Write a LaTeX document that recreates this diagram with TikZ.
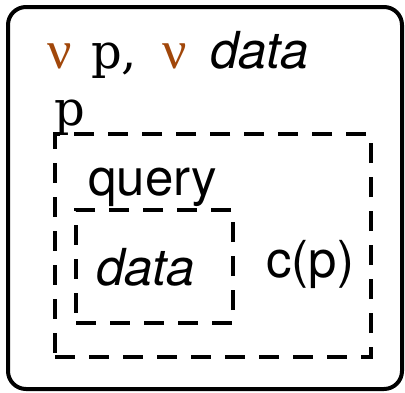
\documentclass[tikz,border=0pt]{standalone}
\usepackage{fontspec}
\setsansfont{TeX Gyre Heros}
\newfontfamily\namefont{DejaVu Serif}
\newfontfamily\nufont{Liberation Serif}
\usepackage{xcolor}
\usepackage{tikz}
\usetikzlibrary{positioning}
\definecolor[named]{nubrown}{rgb}{0.63,0.28,0.04}

\begin{document}
\begin{tikzpicture}
       [x=1pt,y=-1pt,
        world/.style={draw=black,line width=4pt,rounded corners=18pt,
                      shape=rectangle,inner sep=0pt},
        region/.style={draw=black,line width=3.5pt,shape=rectangle,
                       dash pattern=on 20pt off 14pt,inner sep=0pt},
        lbl/.style={anchor=base west,inner sep=0pt,
                    font=\fontsize{51}{60}\selectfont\sffamily},
        chname/.style={anchor=base west,inner sep=0pt,
                       font=\fontsize{48}{56}\selectfont\namefont},
        binder/.style={anchor=base west,inner sep=0pt,text=nubrown,
                       font=\fontsize{54}{60}\selectfont\nufont}]
       \useasboundingbox (0,0) rectangle (405,392);
       \node [world, minimum width=394pt, minimum height=382pt] (outer) at (205,198) {};
       \node [region, minimum width=316pt, minimum height=223pt] (pbox) at (213,245.5) {};
       \node [region, minimum width=157pt, minimum height=113pt] (databox) at (154.5,266.5) {};
       % restrictions
       \node [binder] (nup) at (47,68) {ν};
       \node [chname] (pname) at (91,68) {p,};
       \node [binder] (nudata) at (162,68) {ν};
       \node [lbl,font=\fontsize{51}{60}\selectfont\sffamily\itshape] (dataname) at (210,68) {data};
       % labels
       \node [chname] (plabel) at (54,125) {p};
       \node [lbl] (query) at (88,195) {query};
       \node [lbl,font=\fontsize{51}{60}\selectfont\sffamily\itshape] (datalabel) at (96,285) {data};
       \node [lbl] (cp) at (266,277) {c(p)};
\end{tikzpicture}
\end{document}
